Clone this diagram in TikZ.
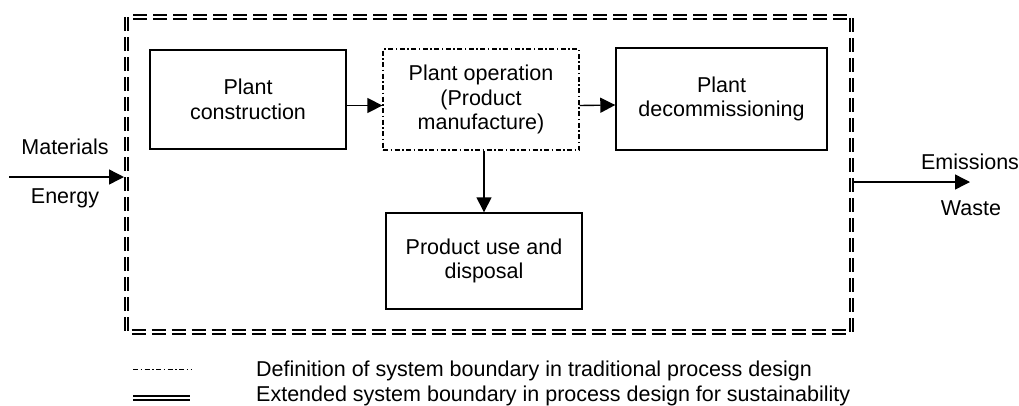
\documentclass[tikz,border=0pt]{standalone}
\usepackage{fontspec}
\setmainfont{Liberation Sans}
\usetikzlibrary{arrows.meta}
\tikzset{
    txt/.style={font=\fontsize{21.5}{24.5}\selectfont, align=center, inner sep=0pt},
    procbox/.style={txt, draw, line width=1.4pt, inner sep=2pt},
    tradbound/.style={line width=1.3pt, dash pattern=on 5pt off 2.5pt on 1.5pt off 2.5pt},
    extbound/.style={line width=1.7pt, double, double distance=1.9pt},
    flow/.style={line width=1.4pt, -{Triangle[length=15pt, width=15pt]}}
}
\begin{document}
\begin{tikzpicture}[x=1pt, y=-1pt]
                \useasboundingbox (0,0) rectangle (1019,405);
                % boundary
                \coordinate (b1) at (126.5,17);
                \coordinate (b2) at (851.5,332);
                \draw[extbound, dash pattern=on 14pt off 6pt] (b1) rectangle (b2);
                % nodes
                \node[procbox, minimum width=196, minimum height=99] (constr) at (248,99.5) {Plant\\construction};
                \node[procbox, tradbound, minimum width=196, minimum height=101] (oper) at (481,99.5) {Plant operation\\(Product\\manufacture)};
                \node[procbox, minimum width=211, minimum height=102] (decom) at (721.5,99) {Plant\\decommissioning};
                \node[procbox, minimum width=196, minimum height=96] (use) at (484,261) {Product use and\\disposal};
                \node[txt] (mat) at (65,147) {Materials};
                \node[txt] (ene) at (65,198) {Energy};
                \node[txt] (emi) at (970,162) {Emissions};
                \node[txt] (was) at (971,208) {Waste};
                \coordinate (src) at (9,177);
                \coordinate (in) at (124,177);
                \coordinate (out) at (853.5,182);
                \coordinate (sink) at (970,182);
                % edges
                \draw[flow] (src) -- (in);
                \draw[flow] ([yshift=-6pt]constr.east) -- ([yshift=-6pt]oper.west);
                \draw[flow] ([yshift=-6pt]oper.east) -- ([yshift=-6pt]decom.west);
                \draw[flow] ([xshift=3pt]oper.south) -- ([xshift=3pt]oper.south |- use.north);
                \draw[flow] (out) -- (sink);
                % legend
                \coordinate (l1a) at (133,369);
                \coordinate (l1b) at (192,369);
                \coordinate (l2a) at (133,398);
                \coordinate (l2b) at (190,398);
                \draw[tradbound, line width=1pt] (l1a) -- (l1b);
                \draw[extbound] (l2a) -- (l2b);
                \node[txt, anchor=west] (leg1) at (256,370.5) {Definition of system boundary in traditional process design};
                \node[txt, anchor=west] (leg2) at (256,395.5) {Extended system boundary in process design for sustainability};
            \end{tikzpicture}
\end{document}
